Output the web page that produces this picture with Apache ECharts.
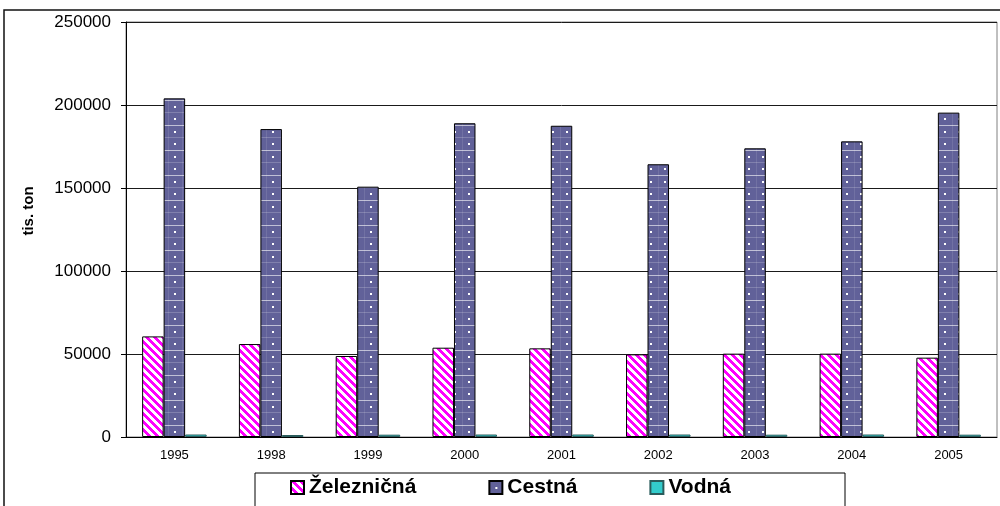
<!DOCTYPE html>
<html>
<head>
<meta charset="utf-8">
<script src="https://cdn.jsdelivr.net/npm/echarts@6/dist/echarts.min.js"></script>
<style>
  html, body { margin: 0; padding: 0; background: #fff; }
  #chart { width: 1000px; height: 506px; }
</style>
</head>
<body>
<div id="chart"></div>
<script>
// values (tis. ton)
const years = ['1995', '1998', '1999', '2000', '2001', '2002', '2003', '2004', '2005'];
const zeleznicna = [60600, 56000, 48800, 53800, 53400, 49800, 50200, 50200, 47800];
const cestna = [204000, 185500, 150800, 189000, 187500, 164300, 173900, 178100, 195400];
const vodna = [1500, 1200, 1400, 1500, 1500, 1500, 1400, 1500, 1400];
const seriesNames = ['Železničná', 'Cestná', 'Vodná'];

const font = 'Arial, "Liberation Sans", sans-serif';

// magenta downward diagonal stripes on white
function stripeTile() {
  const c = document.createElement('canvas');
  c.width = 8; c.height = 8;
  const ctx = c.getContext('2d');
  ctx.fillStyle = '#fff';
  ctx.fillRect(0, 0, 8, 8);
  ctx.fillStyle = '#ff00ff';
  for (let y = 0; y < 8; y++) {
    for (let x = 0; x < 8; x++) {
      if ((((x - y) % 8) + 8) % 8 < 4) ctx.fillRect(x, y, 1, 1);
    }
  }
  return c;
}

// slate fill with small white squares and light horizontal lines
function slateTile() {
  const c = document.createElement('canvas');
  c.width = 14; c.height = 25;
  const ctx = c.getContext('2d');
  ctx.fillStyle = '#616199';
  ctx.fillRect(0, 0, 14, 25);
  ctx.fillStyle = 'rgba(255,255,255,0.6)';
  ctx.fillRect(0, 0, 14, 1);
  ctx.fillStyle = 'rgba(255,255,255,0.2)';
  ctx.fillRect(0, 12, 14, 1);
  ctx.fillStyle = 'rgba(255,255,255,0.1)';
  ctx.fillRect(0, 0, 1, 25);
  ctx.fillStyle = '#fff';
  ctx.fillRect(6, 6, 2, 2);
  ctx.fillRect(6, 18, 2, 2);
  return c;
}

const chart = echarts.init(document.getElementById('chart'));

chart.setOption({
  animation: false,
  backgroundColor: '#fff',
  textStyle: { fontFamily: font },
  grid: {
    left: 126, right: 3, top: 22, bottom: 69,
    show: true, borderColor: '#808080', borderWidth: 1
  },
  graphic: [
    {
      type: 'rect', silent: true, z: 100,
      shape: { x: 4, y: 10, width: 1200, height: 700 },
      style: { fill: 'none', stroke: '#111', lineWidth: 1.5 }
    },
    {
      type: 'text', silent: true,
      x: 29, y: 211, rotation: Math.PI / 2,
      style: {
        text: 'tis. ton', fill: '#000',
        font: 'bold 15px ' + font,
        textAlign: 'center', textVerticalAlign: 'middle'
      }
    }
  ],
  legend: {
    data: seriesNames,
    left: 255, top: 473,
    itemWidth: 13, itemHeight: 13, itemGap: 72,
    padding: [4, 114, 30, 35],
    borderColor: '#000', borderWidth: 1,
    backgroundColor: '#fff',
    icon: 'rect',
    textStyle: { fontSize: 21, fontWeight: 'bold', color: '#000', fontFamily: font }
  },
  xAxis: {
    type: 'category',
    data: years,
    axisLine: { lineStyle: { color: '#000', width: 1 } },
    axisTick: { length: 5, lineStyle: { color: '#000' } },
    axisLabel: { color: '#000', fontSize: 13, margin: 12, fontFamily: font }
  },
  yAxis: {
    type: 'value',
    min: 0, max: 250000, interval: 50000,
    axisLine: { show: true, lineStyle: { color: '#000', width: 1 } },
    axisTick: { show: true, length: 5, lineStyle: { color: '#000' } },
    axisLabel: {
      color: '#000', fontSize: 17, margin: 15, fontFamily: font,
      formatter: v => String(v)
    },
    splitLine: { lineStyle: { color: '#1a1a1a', width: 1 } }
  },
  series: [
    {
      name: seriesNames[0], type: 'bar', data: zeleznicna,
      barWidth: 21.5, barGap: '0%',
      itemStyle: { color: { image: stripeTile(), repeat: 'repeat' }, borderColor: '#000', borderWidth: 1 }
    },
    {
      name: seriesNames[1], type: 'bar', data: cestna,
      barWidth: 21.5, barGap: '0%',
      itemStyle: { color: { image: slateTile(), repeat: 'repeat' }, borderColor: '#000', borderWidth: 1 }
    },
    {
      name: seriesNames[2], type: 'bar', data: vodna,
      barWidth: 21.5, barGap: '0%',
      itemStyle: { color: '#33cccc', borderColor: '#2a5c5c', borderWidth: 1 }
    }
  ]
});
</script>
</body>
</html>
